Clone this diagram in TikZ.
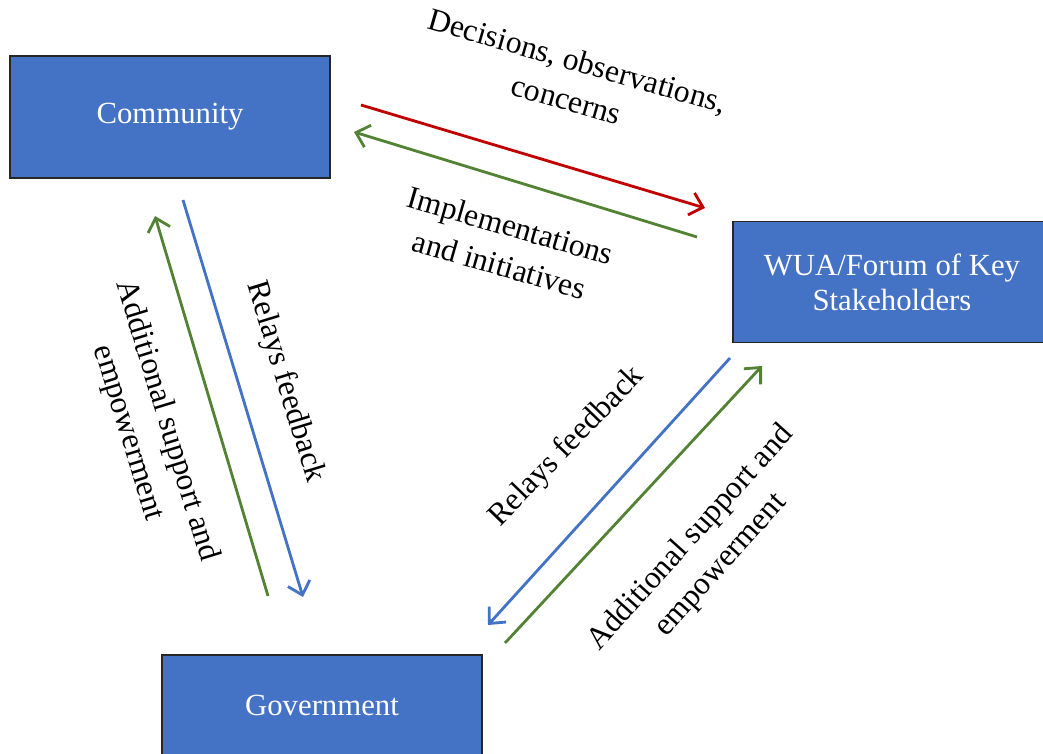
\documentclass[tikz,border=0pt]{standalone}
\usepackage{fontspec}
\setmainfont{Liberation Serif}
\definecolor{boxblue}{RGB}{68,114,196}
\definecolor{arred}{RGB}{192,0,0}
\definecolor{argreen}{RGB}{84,130,53}
\definecolor{arblue}{RGB}{68,114,196}
\usetikzlibrary{arrows.meta,positioning,calc}

\begin{document}
\begin{tikzpicture}[x=0.02cm, y=-0.02cm,
  bx/.style={draw=black!85, fill=boxblue, line width=1pt, text=white, align=center, font=\fontsize{17.5}{20}\selectfont, inner sep=0pt},
  arr/.style={line width=1.6pt, -{Straight Barb[length=7pt,width=13pt]}},
  lbl/.style={align=center, font=\fontsize{18}{23}\selectfont}]
\useasboundingbox (0,0) rectangle (1043,753);
% Boxes
\node[bx, minimum width=6.4cm, minimum height=2.44cm] (comm) at (170,117) {Community};
\node[bx, minimum width=6.36cm, minimum height=2.42cm] (wua) at (892,282) {WUA/Forum of Key\\Stakeholders};
\node[bx, minimum width=6.4cm, minimum height=2.0cm] (gov) at (322,705) {Government};
% Arrow ends
\coordinate (cw1) at (361,105);
\coordinate (cw2) at (705,208);
\coordinate (wc1) at (697,237);
\coordinate (wc2) at (354,132);
\coordinate (cg1) at (183,200);
\coordinate (cg2) at (303,597);
\coordinate (gc1) at (268,596);
\coordinate (gc2) at (155,216);
\coordinate (wg1) at (730,358);
\coordinate (wg2) at (488,625);
\coordinate (gw1) at (505,643);
\coordinate (gw2) at (762,366);
% Arrows
\draw[arr, arred] (cw1) -- (cw2);
\draw[arr, argreen] (wc1) -- (wc2);
\draw[arr, arblue] (cg1) -- (cg2);
\draw[arr, argreen] (gc1) -- (gc2);
\draw[arr, arblue] (wg1) -- (wg2);
\draw[arr, argreen] (gw1) -- (gw2);
% Labels
\node[lbl, rotate=-16] (dec) at (572,80) {Decisions, observations,\\concerns};
\node[lbl, rotate=-16] (imp) at (505,245) {Implementations\\and initiatives};
\node[lbl, rotate=-73] (rfl) at (285,382) {Relays feedback};
\node[lbl, rotate=-73] (asl) at (147,427) {Additional support and\\empowerment};
\node[lbl, rotate=46] (rfr) at (567,447) {Relays feedback};
\node[lbl, rotate=48] (asr) at (706,552) {Additional support and\\empowerment};
\end{tikzpicture}
\end{document}
